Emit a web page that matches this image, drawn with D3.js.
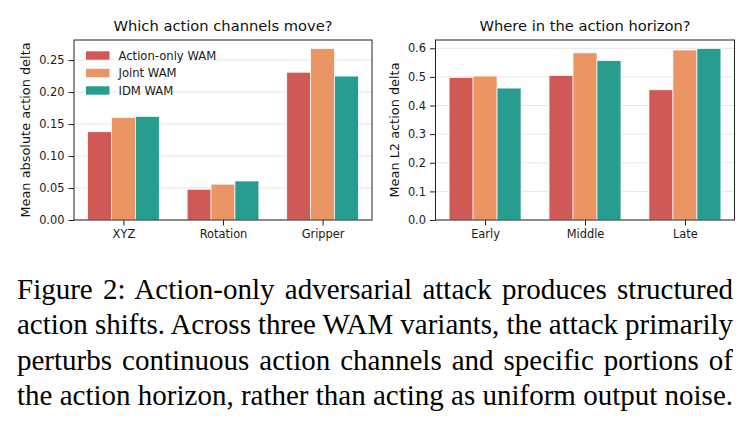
<!DOCTYPE html>
<html>
<head>
<meta charset="utf-8">
<script src="https://cdn.jsdelivr.net/npm/d3@7"></script>
<style>
  html, body { margin: 0; padding: 0; background: #fff; }
  svg { display: block; }
</style>
</head>
<body>
<div id="chart"></div>
<script>
// data
const seriesNames = ["Action-only WAM", "Joint WAM", "IDM WAM"];
const seriesColors = ["#cf5a55", "#eb9564", "#279d90"];

const channelCats = ["XYZ", "Rotation", "Gripper"];
const channelVals = [
  [0.138, 0.048, 0.231],   // Action-only
  [0.160, 0.056, 0.268],   // Joint
  [0.162, 0.061, 0.225]    // IDM
];
const channelTicks = [0, 0.05, 0.10, 0.15, 0.20, 0.25];

const horizonCats = ["Early", "Middle", "Late"];
const horizonVals = [
  [0.498, 0.505, 0.455],
  [0.503, 0.584, 0.594],
  [0.461, 0.557, 0.599]
];
const horizonTicks = [0, 0.1, 0.2, 0.3, 0.4, 0.5, 0.6];

const captionLines = [
  "Figure 2: Action-only adversarial attack produces structured",
  "action shifts. Across three WAM variants, the attack primarily",
  "perturbs continuous action channels and specific portions of",
  "the action horizon, rather than acting as uniform output noise."
];

const W = 754, H = 429;
const sans = "\"DejaVu Sans\", sans-serif";
const serif = "\"Liberation Serif\", \"Times New Roman\", serif";

const svg = d3.select("#chart").append("svg")
  .attr("width", W)
  .attr("height", H);

svg.append("rect").attr("width", W).attr("height", H).attr("fill", "#fff");

const barW = 0.24;

function panel(opt) {
  const { left, right, top, bottom, cats, vals, ticks, fmt, title, ylabel, ylabelX, legend } = opt;

  const x = d3.scaleLinear().domain([-0.496, 2.496]).range([left, right]);
  const ymax = d3.max(vals.flat()) * 1.05;
  const y = d3.scaleLinear().domain([0, ymax]).range([bottom, top]);

  const g = svg.append("g");

  // grid
  g.selectAll("line.grid").data(ticks).enter()
    .append("line")
    .attr("class", "grid")
    .attr("x1", left).attr("x2", right)
    .attr("y1", d => y(d)).attr("y2", d => y(d))
    .attr("stroke", "#e6e6e6")
    .attr("stroke-width", 1);

  // bars
  vals.forEach((row, si) => {
    g.selectAll(null).data(row).enter()
      .append("rect")
      .attr("x", (d, i) => x(i + (si - 1) * barW - barW / 2))
      .attr("width", x(barW) - x(0))
      .attr("y", d => y(d))
      .attr("height", d => y(0) - y(d))
      .attr("fill", seriesColors[si])
      .attr("stroke", "#fff")
      .attr("stroke-width", 0.7);
  });

  // axes
  const yAxis = g.append("g")
    .attr("transform", `translate(${left},0)`)
    .call(d3.axisLeft(y).tickValues(ticks).tickFormat(d3.format(fmt)).tickSize(5.5).tickPadding(4));
  const xAxis = g.append("g")
    .attr("transform", `translate(0,${bottom})`)
    .call(d3.axisBottom(x).tickValues([0, 1, 2]).tickFormat(i => cats[i]).tickSize(5.5).tickPadding(4));

  [yAxis, xAxis].forEach(a => {
    a.select(".domain").remove();
    a.selectAll("line").attr("stroke", "#222").attr("stroke-width", 1);
    a.selectAll("text")
      .attr("fill", "#1a1a1a")
      .style("font-family", sans)
      .style("font-size", "11.4px");
  });

  // frame
  g.append("rect")
    .attr("x", left).attr("y", top)
    .attr("width", right - left).attr("height", bottom - top)
    .attr("fill", "none")
    .attr("stroke", "#222")
    .attr("stroke-width", 1);

  // title
  g.append("text")
    .attr("x", (left + right) / 2)
    .attr("y", 31)
    .attr("text-anchor", "middle")
    .style("font-family", sans)
    .style("font-size", "14.7px")
    .attr("fill", "#111")
    .text(title);

  // y label
  g.append("text")
    .attr("transform", `translate(${ylabelX},${(top + bottom) / 2}) rotate(-90)`)
    .attr("text-anchor", "middle")
    .attr("dominant-baseline", "central")
    .style("font-family", sans)
    .style("font-size", "12.9px")
    .attr("fill", "#111")
    .text(ylabel);

  if (legend) {
    const lg = g.selectAll(".legend").data(seriesNames).enter()
      .append("g")
      .attr("class", "legend")
      .attr("transform", (d, i) => `translate(${left + 12},${55.5 + i * 17.5})`);
    lg.append("rect")
      .attr("x", 0).attr("y", -4.2)
      .attr("width", 23.5).attr("height", 8.4)
      .attr("fill", (d, i) => seriesColors[i]);
    lg.append("text")
      .attr("x", 32.5)
      .attr("y", 0)
      .attr("dominant-baseline", "central")
      .style("font-family", sans)
      .style("font-size", "11.6px")
      .attr("fill", "#1a1a1a")
      .text(d => d);
  }
}

panel({
  left: 74, right: 372, top: 40, bottom: 220,
  cats: channelCats, vals: channelVals, ticks: channelTicks, fmt: ".2f",
  title: "Which action channels move?",
  ylabel: "Mean absolute action delta", ylabelX: 25,
  legend: true
});

panel({
  left: 435.5, right: 734.5, top: 40, bottom: 220,
  cats: horizonCats, vals: horizonVals, ticks: horizonTicks, fmt: ".1f",
  title: "Where in the action horizon?",
  ylabel: "Mean L2 action delta", ylabelX: 394,
  legend: false
});

// caption, justified by stretching the word gaps
const capLeft = 17, capWidth = 716;
svg.selectAll("text.caption").data(captionLines).enter()
  .append("text")
  .attr("class", "caption")
  .attr("x", capLeft)
  .attr("y", (d, i) => 298.5 + i * 35.5)
  .style("font-family", serif)
  .style("font-size", "29px")
  .attr("fill", "#000")
  .text(d => d)
  .each(function (d) {
    const natural = this.getComputedTextLength();
    const gaps = d.split(" ").length - 1;
    const extra = (capWidth - natural) / gaps;
    d3.select(this).style("word-spacing", `${extra}px`);
  });
</script>
</body>
</html>
